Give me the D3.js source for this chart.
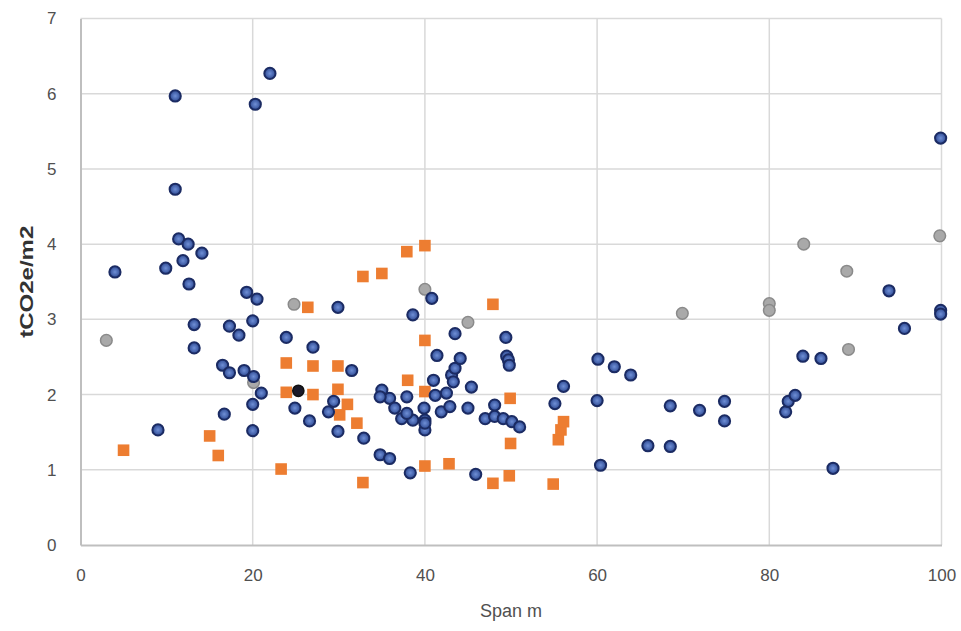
<!DOCTYPE html>
<html><head><meta charset="utf-8">
<script src="https://cdn.jsdelivr.net/npm/d3@7"></script>
<style>body{margin:0;background:#fff;} svg{display:block;}</style>
</head><body>
<svg id="chart" width="961" height="631"></svg>
<script>
const xTicks = [0, 20, 40, 60, 80, 100];
const yTicks = [0, 1, 2, 3, 4, 5, 6, 7];
const xTitle = "Span m";
const yTitle = "tCO2e/m2";

const blueSeries = [
[4.0,3.63],[9.0,1.53],[9.9,3.68],[11.0,5.97],[11.0,4.73],[11.4,4.07],[11.9,3.78],[12.5,4.0],[12.6,3.47],[13.2,2.93],[13.2,2.62],[14.1,3.88],
[16.5,2.39],[16.7,1.74],[17.3,2.29],[17.3,2.91],[18.4,2.79],[19.0,2.32],[19.3,3.36],[20.0,2.98],[20.0,1.87],[20.0,1.52],[20.1,2.24],[20.3,5.86],
[20.5,3.27],[21.0,2.02],[22.0,6.27],[23.9,2.76],[24.9,1.82],[26.6,1.65],[27.0,2.63],[28.8,1.77],[29.4,1.91],[29.9,3.16],[29.9,1.51],
[31.5,2.32],[32.9,1.42],[34.8,1.20],[35.9,1.15],[35.0,2.06],[35.9,1.95],[34.8,1.97],[37.9,1.97],[36.5,1.82],[37.3,1.68],[38.6,1.66],[37.9,1.75],
[38.3,0.96],[38.6,3.06],[39.9,1.82],[40.0,1.66],[40.0,1.53],[40.0,1.62],[40.8,3.28],[41.0,2.19],[41.2,1.99],[41.4,2.52],[41.9,1.77],[42.5,2.02],
[42.9,1.84],[43.1,2.26],[43.3,2.17],[43.5,2.35],[43.5,2.81],[44.1,2.48],[45.0,1.82],[45.4,2.10],[45.9,0.94],[47.0,1.68],[48.1,1.86],[48.1,1.71],
[49.1,1.68],[49.4,2.76],[49.5,2.51],[49.7,2.46],[49.8,2.39],[50.1,1.64],[51.0,1.57],[55.1,1.88],[56.1,2.11],[60.1,2.47],[60.0,1.92],[60.4,1.06],
[62.0,2.37],[63.9,2.26],[65.9,1.32],[68.5,1.31],[68.5,1.85],[71.9,1.79],[74.8,1.91],[74.8,1.65],[81.9,1.77],[82.2,1.91],[83.0,1.99],[83.9,2.51],
[86.0,2.48],[87.4,1.02],[93.9,3.38],[95.7,2.88],[99.9,5.41],[99.9,3.12],[99.9,3.07]
];
const orangeSeries = [
[5.0,1.26],[15.0,1.45],[16.0,1.19],[23.3,1.01],[23.9,2.42],[23.9,2.03],[26.4,3.16],[27.0,2.38],[27.0,2.0],[29.9,2.38],[29.9,2.07],[31.0,1.87],
[30.1,1.73],[32.1,1.62],[32.8,0.83],[32.8,3.57],[35.0,3.61],[37.9,3.90],[38.0,2.19],[40.0,3.98],[40.0,2.72],[40.0,2.04],[40.0,1.05],[42.8,1.08],
[47.9,3.20],[47.9,0.82],[49.9,1.95],[49.95,1.35],[49.8,0.92],[54.9,0.81],[55.5,1.40],[55.8,1.53],[56.1,1.64]
];
const graySeries = [
[3.0,2.72],[20.1,2.16],[24.8,3.20],[40.0,3.40],[45.0,2.96],[69.9,3.08],[80.0,3.21],[80.0,3.12],[84.0,4.00],[89.0,3.64],[89.2,2.60],[99.8,4.11]
];
const blackSeries = [[25.3,2.05]];

const svg = d3.select("#chart");
const x = d3.scaleLinear().domain([0, 100]).range([80.5, 941.5]);
const y = d3.scaleLinear().domain([0, 7]).range([545, 18.5]);
const font = "'Liberation Sans', Arial, sans-serif";
const narrow = "'Liberation Sans Narrow', 'Liberation Sans', Arial, sans-serif";

// gridlines
svg.append("g").selectAll("line").data(yTicks.filter(d => d > 0)).join("line")
  .attr("x1", x(0)).attr("x2", x(100)).attr("y1", d => y(d)).attr("y2", d => y(d))
  .attr("stroke", "#d9d9d9").attr("stroke-width", 1.5);
svg.append("g").selectAll("line").data(xTicks.filter(d => d > 0)).join("line")
  .attr("x1", d => x(d)).attr("x2", d => x(d)).attr("y1", y(0)).attr("y2", y(7))
  .attr("stroke", "#d9d9d9").attr("stroke-width", 1.5);

// axes
const xAxis = svg.append("g").attr("transform", `translate(0,${y(0)})`)
  .call(d3.axisBottom(x).tickValues(xTicks).tickFormat(d3.format("d")).tickSize(0).tickPadding(24));
const yAxis = svg.append("g").attr("transform", `translate(${x(0)},0)`)
  .call(d3.axisLeft(y).tickValues(yTicks).tickFormat(d3.format("d")).tickSize(0).tickPadding(24));
[xAxis, yAxis].forEach(a => {
  a.select(".domain").attr("stroke", "#bfbfbf").attr("stroke-width", 2);
  a.selectAll("text").attr("font-family", font).attr("font-size", 17).attr("fill", "#505050");
});

// titles
svg.append("text").attr("x", (x(0) + x(100)) / 2).attr("y", 617)
  .attr("text-anchor", "middle").attr("font-family", narrow).attr("font-size", 18)
  .attr("fill", "#505050").text(xTitle);
svg.append("text").attr("transform", `translate(33,${(y(0) + y(7)) / 2}) rotate(-90)`)
  .attr("text-anchor", "middle").attr("font-family", narrow).attr("font-size", 19)
  .attr("font-weight", "bold").attr("fill", "#333")
  .attr("textLength", 112).attr("lengthAdjust", "spacingAndGlyphs").text(yTitle);

// points
const defs = svg.append("defs");
const grad = defs.append("radialGradient").attr("id", "blueGrad");
grad.append("stop").attr("offset", "0%").attr("stop-color", "#6f8fd6");
grad.append("stop").attr("offset", "100%").attr("stop-color", "#2f4b94");

svg.append("g").selectAll("circle").data(graySeries).join("circle")
  .attr("cx", d => x(d[0])).attr("cy", d => y(d[1])).attr("r", 5.8)
  .attr("fill", "#a9a9a9").attr("stroke", "#8a8a8a").attr("stroke-width", 1.5);

svg.append("g").selectAll("rect").data(orangeSeries).join("rect")
  .attr("x", d => x(d[0]) - 5.8).attr("y", d => y(d[1]) - 5.8)
  .attr("width", 11.6).attr("height", 11.6).attr("fill", "#ed7d31");

svg.append("g").selectAll("circle").data(blueSeries).join("circle")
  .attr("cx", d => x(d[0])).attr("cy", d => y(d[1])).attr("r", 5.6)
  .attr("fill", "url(#blueGrad)").attr("stroke", "#1b2b63").attr("stroke-width", 2);

svg.append("g").selectAll("circle").data(blackSeries).join("circle")
  .attr("cx", d => x(d[0])).attr("cy", d => y(d[1])).attr("r", 5.6)
  .attr("fill", "#1a1a2a").attr("stroke", "#111").attr("stroke-width", 1.5);
</script>
</body></html>
